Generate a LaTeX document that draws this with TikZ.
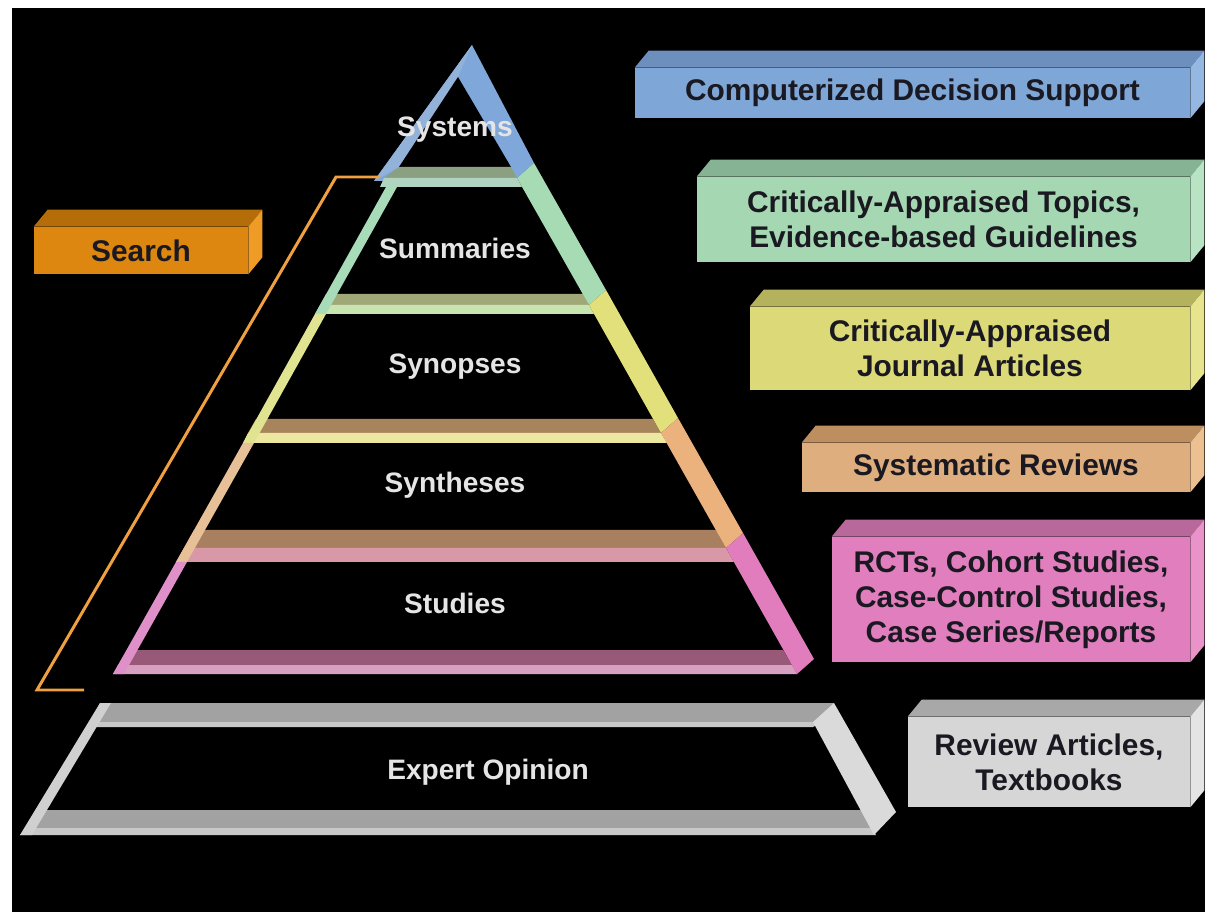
\documentclass[tikz,border=0pt]{standalone}
\usepackage{fontspec}
\setmainfont{Liberation Sans}
\usetikzlibrary{positioning}

\definecolor{sysface}{HTML}{7FA7D9}
\definecolor{sysstrip}{HTML}{92B2DA}
\definecolor{sysdark}{HTML}{8AA080}
\definecolor{syslight}{HTML}{B0D4C0}
\definecolor{sumface}{HTML}{A6DBB4}
\definecolor{sumstrip}{HTML}{A8DCB8}
\definecolor{sumdark}{HTML}{A0A878}
\definecolor{sumlight}{HTML}{C8E4B0}
\definecolor{synface}{HTML}{E1E07A}
\definecolor{synstrip}{HTML}{E0E490}
\definecolor{syndark}{HTML}{A8845C}
\definecolor{synlight}{HTML}{ECE8A0}
\definecolor{sthface}{HTML}{EBB27E}
\definecolor{sthstrip}{HTML}{E8C098}
\definecolor{sthdark}{HTML}{A88060}
\definecolor{sthlight}{HTML}{D898A8}
\definecolor{stuface}{HTML}{E27DBD}
\definecolor{stustrip}{HTML}{E090C8}
\definecolor{studark}{HTML}{985878}
\definecolor{stulight}{HTML}{D8A0C0}
\definecolor{expface}{HTML}{DADADA}
\definecolor{expstrip}{HTML}{D0D0D0}
\definecolor{expdark}{HTML}{A2A2A2}
\definecolor{explight}{HTML}{C8C8C8}
\definecolor{bluefront}{HTML}{7EA6D6}
\definecolor{bluetop}{HTML}{6C8FBE}
\definecolor{blueside}{HTML}{94B8E2}
\definecolor{greenfront}{HTML}{A5D7B2}
\definecolor{greentop}{HTML}{86B394}
\definecolor{greenside}{HTML}{B8E4C4}
\definecolor{yellowfront}{HTML}{DCDA78}
\definecolor{yellowtop}{HTML}{B4B25C}
\definecolor{yellowside}{HTML}{E6E48C}
\definecolor{tanfront}{HTML}{DFAE7E}
\definecolor{tantop}{HTML}{BC8E60}
\definecolor{tanside}{HTML}{ECC090}
\definecolor{pinkfront}{HTML}{E07EBE}
\definecolor{pinktop}{HTML}{B8689A}
\definecolor{pinkside}{HTML}{EA92CA}
\definecolor{grayfront}{HTML}{D6D6D6}
\definecolor{graytop}{HTML}{A8A8A8}
\definecolor{grayside}{HTML}{E4E4E4}
\definecolor{orangefront}{HTML}{DD8710}
\definecolor{orangetop}{HTML}{B56D0A}
\definecolor{orangeside}{HTML}{EE9C26}
\definecolor{searchorange}{HTML}{F0A040}
\definecolor{boxink}{HTML}{1A1820}

\tikzstyle{tierlabel}=[text=white!90!black,font=\fontsize{16}{19}\selectfont\bfseries]
\tikzstyle{boxfront}=[inner sep=0pt,align=center,text=boxink,font=\fontsize{17}{20}\selectfont\bfseries]
\tikzstyle{searchline}=[draw=searchorange,line width=1.7pt]

\begin{document}
\begin{tikzpicture}[x=0.02cm,y=-0.02cm,node distance=2.37cm]
  \useasboundingbox (0,0) rectangle (1205,912);
  \fill[white] (0,0) rectangle (1205,912);
  \fill[black] (12,8) rectangle (1205,912);

  % Systems
  \fill[sysface] (472,45) -- (374,181) -- (517,178) -- (534,163) -- cycle;
  \fill[sysstrip] (472,45) -- (374,181) -- (399,167) -- (458,77) -- cycle;
  \fill[black] (458,77) -- (399,167) -- (511,167) -- cycle;
  \fill[sysdark] (399,167) -- (511,167) -- (517,178) -- (384,178) -- cycle;
  \fill[syslight] (384,178) -- (517,178) -- (522,187) -- (380,187) -- cycle;

  % Summaries
  \fill[sumdark] (326,294) -- (583,294) -- (589,305) -- (320,305) -- cycle;
  \fill[sumlight] (320,305) -- (589,305) -- (594,314) -- (315,314) -- cycle;
  \fill[sumstrip] (386,187) -- (315,314) -- (326,314) -- (397,187) -- cycle;
  \fill[sumface] (517,178) -- (589,305) -- (606,290) -- (534,163) -- cycle;

  % Synopses
  \fill[syndark] (256,419) -- (653,419) -- (661,433) -- (248,433) -- cycle;
  \fill[synlight] (248,433) -- (661,433) -- (667,443) -- (243,443) -- cycle;
  \fill[synstrip] (315,314) -- (243,443) -- (254,443) -- (326,314) -- cycle;
  \fill[synface] (589,305) -- (661,433) -- (678,418) -- (606,290) -- cycle;

  % Syntheses
  \fill[sthdark] (194,530) -- (716,530) -- (726,548) -- (184,548) -- cycle;
  \fill[sthlight] (184,548) -- (726,548) -- (734,562) -- (176,562) -- cycle;
  \fill[sthstrip] (243,443) -- (176,562) -- (187,562) -- (254,443) -- cycle;
  \fill[sthface] (661,433) -- (726,548) -- (743,533) -- (678,418) -- cycle;

  % Studies
  \fill[studark] (127,650) -- (783,650) -- (792,665) -- (118,665) -- cycle;
  \fill[stulight] (118,665) -- (792,665) -- (797,674) -- (113,674) -- cycle;
  \fill[stustrip] (176,562) -- (113,674) -- (124,674) -- (187,562) -- cycle;
  \fill[stuface] (726,548) -- (797,674) -- (814,659) -- (743,533) -- cycle;

  % Expert Opinion
  \fill[expdark] (100,703) -- (834,703) -- (822,722) -- (91,722) -- cycle;
  \fill[explight] (91,722) -- (822,722) -- (813,727) -- (88,727) -- cycle;
  \fill[expdark] (41,810) -- (862,810) -- (872,828) -- (28,828) -- cycle;
  \fill[explight] (28,828) -- (872,828) -- (876,835) -- (20,835) -- cycle;
  \fill[expstrip] (100,703) -- (20,835) -- (32,835) -- (111,703) -- cycle;
  \fill[expface] (813,722) -- (874,835) -- (896,812) -- (834,703) -- cycle;

  \node[tierlabel] (systems) at (455,130) {Systems};
  \node[tierlabel] (summaries) [below of=systems] {Summaries};
  \node[tierlabel] (synopses) [below of=summaries] {Synopses};
  \node[tierlabel] (syntheses) [below of=synopses] {Syntheses};
  \node[tierlabel] (studies) [below of=syntheses] {Studies};
  \node[tierlabel] (expert) at (488,772) {Expert Opinion};

  % search bracket
  \draw[searchline] (380,177) -- (336,177) -- (37,690) -- (84,690);

  \node[boxfront,fill=orangefront,minimum width=4.28cm,minimum height=0.94cm] (search) at (141,250.5) {Search};
  \fill[orangetop] (search.north west) -- (search.north east) -- ([shift={(14,-17)}]search.north east) -- ([shift={(14,-17)}]search.north west) -- cycle;
  \fill[orangeside] (search.north east) -- ([shift={(14,-17)}]search.north east) -- ([shift={(14,-17)}]search.south east) -- (search.south east) -- cycle;

  \node[boxfront,fill=bluefront,minimum width=11.1cm,minimum height=1cm] (cds) at (912.5,93) {Computerized Decision Support};
  \fill[bluetop] (cds.north west) -- (cds.north east) -- ([shift={(14,-17)}]cds.north east) -- ([shift={(14,-17)}]cds.north west) -- cycle;
  \fill[blueside] (cds.north east) -- ([shift={(14,-17)}]cds.north east) -- ([shift={(14,-17)}]cds.south east) -- (cds.south east) -- cycle;

  \node[boxfront,fill=greenfront,minimum width=9.86cm,minimum height=1.7cm] (cat) at (943.5,219.5) {Critically-Appraised Topics,\\Evidence-based Guidelines};
  \fill[greentop] (cat.north west) -- (cat.north east) -- ([shift={(14,-17)}]cat.north east) -- ([shift={(14,-17)}]cat.north west) -- cycle;
  \fill[greenside] (cat.north east) -- ([shift={(14,-17)}]cat.north east) -- ([shift={(14,-17)}]cat.south east) -- (cat.south east) -- cycle;

  \node[boxfront,fill=yellowfront,minimum width=8.8cm,minimum height=1.66cm] (caja) at (970,348.5) {Critically-Appraised\\Journal Articles};
  \fill[yellowtop] (caja.north west) -- (caja.north east) -- ([shift={(14,-17)}]caja.north east) -- ([shift={(14,-17)}]caja.north west) -- cycle;
  \fill[yellowside] (caja.north east) -- ([shift={(14,-17)}]caja.north east) -- ([shift={(14,-17)}]caja.south east) -- (caja.south east) -- cycle;

  \node[boxfront,fill=tanfront,minimum width=7.76cm,minimum height=0.98cm] (sysrev) at (996,467.5) {Systematic Reviews};
  \fill[tantop] (sysrev.north west) -- (sysrev.north east) -- ([shift={(14,-17)}]sysrev.north east) -- ([shift={(14,-17)}]sysrev.north west) -- cycle;
  \fill[tanside] (sysrev.north east) -- ([shift={(14,-17)}]sysrev.north east) -- ([shift={(14,-17)}]sysrev.south east) -- (sysrev.south east) -- cycle;

  \node[boxfront,fill=pinkfront,minimum width=7.16cm,minimum height=2.5cm] (rct) at (1011,599.5) {RCTs, Cohort Studies,\\Case-Control Studies,\\Case Series/Reports};
  \fill[pinktop] (rct.north west) -- (rct.north east) -- ([shift={(14,-17)}]rct.north east) -- ([shift={(14,-17)}]rct.north west) -- cycle;
  \fill[pinkside] (rct.north east) -- ([shift={(14,-17)}]rct.north east) -- ([shift={(14,-17)}]rct.south east) -- (rct.south east) -- cycle;

  \node[boxfront,fill=grayfront,minimum width=5.64cm,minimum height=1.8cm] (review) at (1049,762) {Review Articles,\\Textbooks};
  \fill[graytop] (review.north west) -- (review.north east) -- ([shift={(14,-17)}]review.north east) -- ([shift={(14,-17)}]review.north west) -- cycle;
  \fill[grayside] (review.north east) -- ([shift={(14,-17)}]review.north east) -- ([shift={(14,-17)}]review.south east) -- (review.south east) -- cycle;
\end{tikzpicture}
\end{document}
